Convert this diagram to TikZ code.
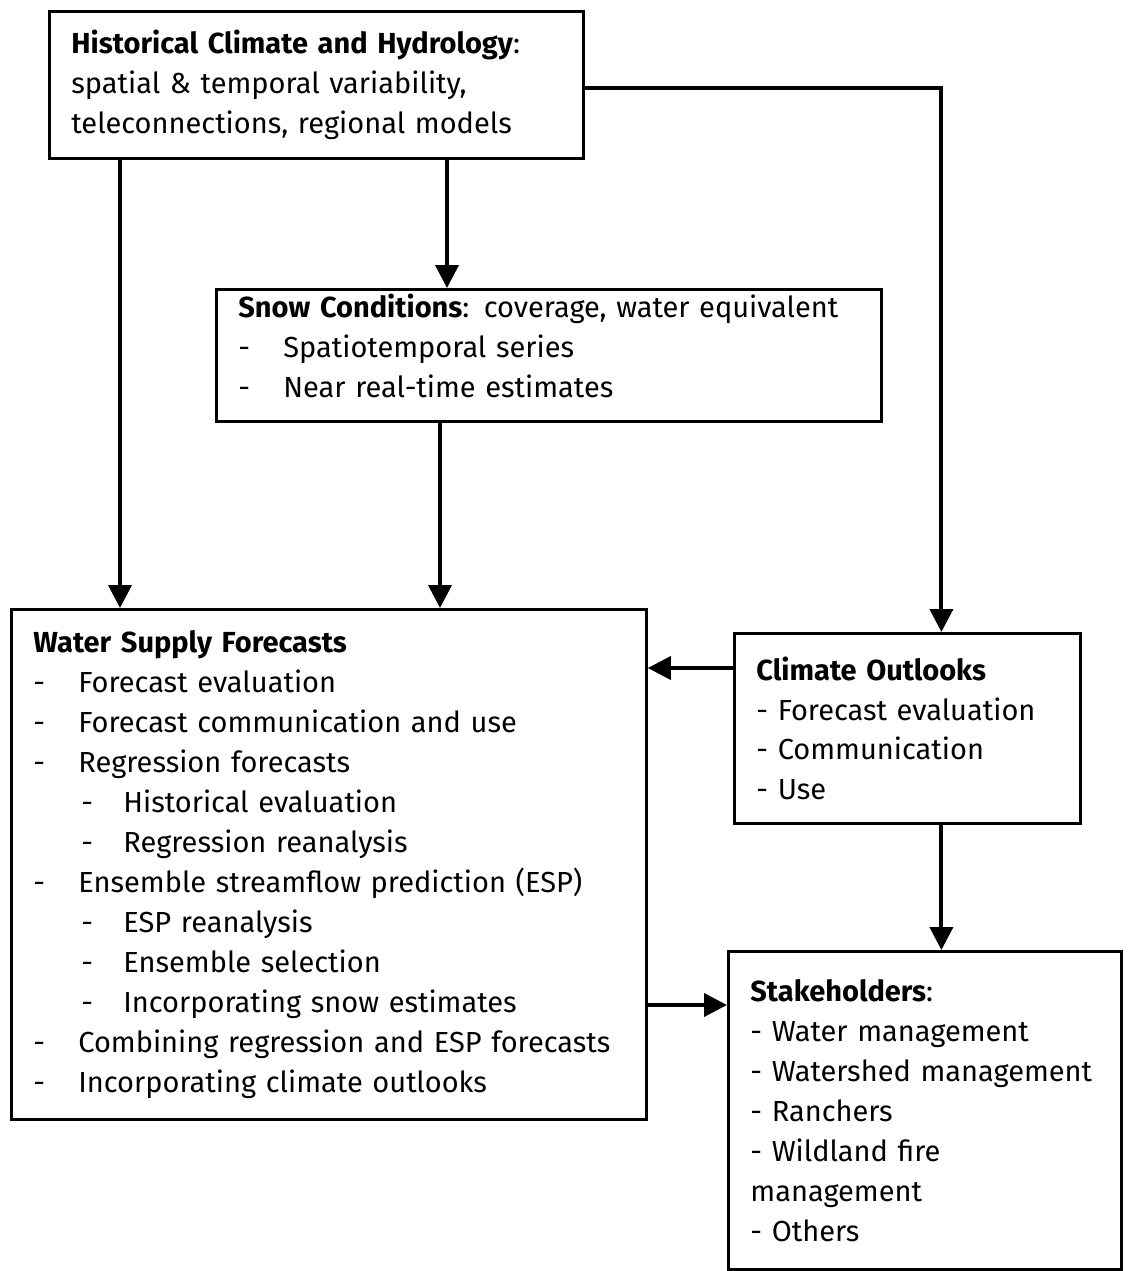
\documentclass[tikz,border=0pt]{standalone}
\usepackage{fontspec}
\setmainfont{Fira Sans}
\usepackage{tikz}
\usetikzlibrary{arrows.meta,positioning}
\tikzstyle{box} = [rectangle, draw, line width=1.6pt, anchor=north west,
    align=left, inner xsep=0.44cm, inner ysep=0pt,
    font=\fontsize{16.5}{22.76}\selectfont]
\tikzstyle{line} = [draw, -{Triangle[length=0.46cm,width=0.46cm]}, line width=2.2pt]
\newcommand{\itm}[1]{\makebox[0.9cm][l]{-}#1}
\newcommand{\subitm}[1]{\hspace{0.96cm}\makebox[0.84cm][l]{-}#1}

\begin{document}
\begin{tikzpicture}
    % Bounding box
    \useasboundingbox (0,0) rectangle (22.62,-25.42);

    % Place nodes
    \node [box, text width=9.8cm, minimum height=2.94cm] at (0.96,-0.2) (hist)
        {\textbf{Historical Climate and Hydrology}:\\
         spatial \& temporal variability,\\
         teleconnections, regional models};
    \node [box, text width=12.42cm, minimum height=2.64cm] at (4.3,-5.76) (snow)
        {\textbf{Snow Conditions}: coverage, water equivalent\\
         \itm{Spatiotemporal series}\\
         \itm{Near real-time estimates}\\[-0.4cm]\mbox{}};
    \node [box, text width=11.82cm, minimum height=10.2cm] at (0.2,-12.16) (wsf)
        {\textbf{Water Supply Forecasts}\\
         \itm{Forecast evaluation}\\
         \itm{Forecast communication and use}\\
         \itm{Regression forecasts}\\
         \subitm{Historical evaluation}\\
         \subitm{Regression reanalysis}\\
         \itm{Ensemble streamflow prediction (ESP)}\\
         \subitm{ESP reanalysis}\\
         \subitm{Ensemble selection}\\
         \subitm{Incorporating snow estimates}\\
         \itm{Combining regression and ESP forecasts}\\
         \itm{Incorporating climate outlooks}};
    \node [box, text width=6.04cm, minimum height=3.8cm] at (14.66,-12.64) (clim)
        {\textbf{Climate Outlooks}\\
         - Forecast evaluation\\
         - Communication\\
         - Use};
    \node [box, text width=6.98cm, minimum height=6.36cm] at (14.54,-19.0) (stk)
        {\textbf{Stakeholders}:\\
         - Water management\\
         - Watershed management\\
         - Ranchers\\
         - Wildland fire\\
         management\\
         - Others};

    % Connectors
    \draw [line] ([xshift=1.44cm]hist.south west) -- ([xshift=1.44cm]hist.south west |- wsf.north);
    \draw [line] ([xshift=7.98cm]hist.south west) -- ([xshift=7.98cm]hist.south west |- snow.north);
    \draw [line] ([yshift=-1.56cm]hist.north east) -| ([xshift=0.68cm]clim.north);
    \draw [line] ([xshift=4.5cm]snow.south west) -- ([xshift=4.5cm]snow.south west |- wsf.north);
    \draw [line] ([yshift=-0.72cm]clim.north west) -- ([yshift=-0.72cm]clim.north west -| wsf.east);
    \draw [line] ([xshift=0.68cm]clim.south) -- ([xshift=0.68cm]clim.south |- stk.north);
    \draw [line] ([yshift=-7.94cm]wsf.north east) -- ([yshift=-7.94cm]wsf.north east -| stk.west);
\end{tikzpicture}
\end{document}
